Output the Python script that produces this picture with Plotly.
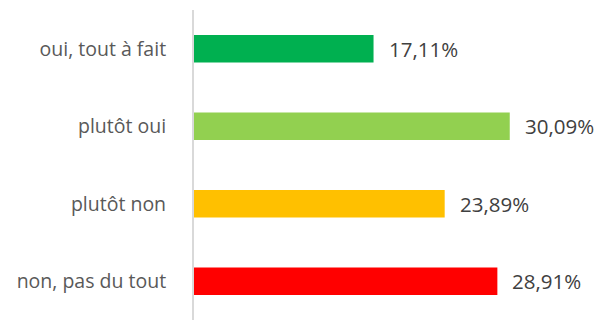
import plotly.graph_objects as go

categories = ["oui, tout à fait", "plutôt oui", "plutôt non", "non, pas du tout"]
values = [17.11, 30.09, 23.89, 28.91]
colors = ["#00B050", "#92D050", "#FFC000", "#FF0000"]
value_labels = [f"{v:.2f}%".replace(".", ",") for v in values]

FONT = "Open Sans"

fig = go.Figure(
    go.Bar(
        x=values,
        y=categories,
        orientation="h",
        marker=dict(color=colors, line=dict(width=0)),
        hoverinfo="skip",
    )
)

for cat, v, lab in zip(categories, values, value_labels):
    fig.add_annotation(
        x=v, y=cat, text=lab, showarrow=False,
        xanchor="left", yanchor="middle", xshift=13,
        font=dict(family=FONT, size=20.5, color="#404040"),
    )

fig.update_layout(
    width=598, height=320,
    margin=dict(l=194, r=0, t=10, b=0),
    paper_bgcolor="white", plot_bgcolor="white",
    bargap=0.643,
    showlegend=False,
    xaxis=dict(range=[0, 38.5], visible=False, fixedrange=True),
    yaxis=dict(
        categoryorder="array", categoryarray=categories, autorange="reversed",
        showline=True, linecolor="#D9D9D9", linewidth=2,
        showgrid=False, zeroline=False, ticks="",
        ticklabelstandoff=22,
        tickfont=dict(family=FONT, size=19.5, color="#595959"),
        fixedrange=True,
    ),
)

fig.write_html("out.html")
